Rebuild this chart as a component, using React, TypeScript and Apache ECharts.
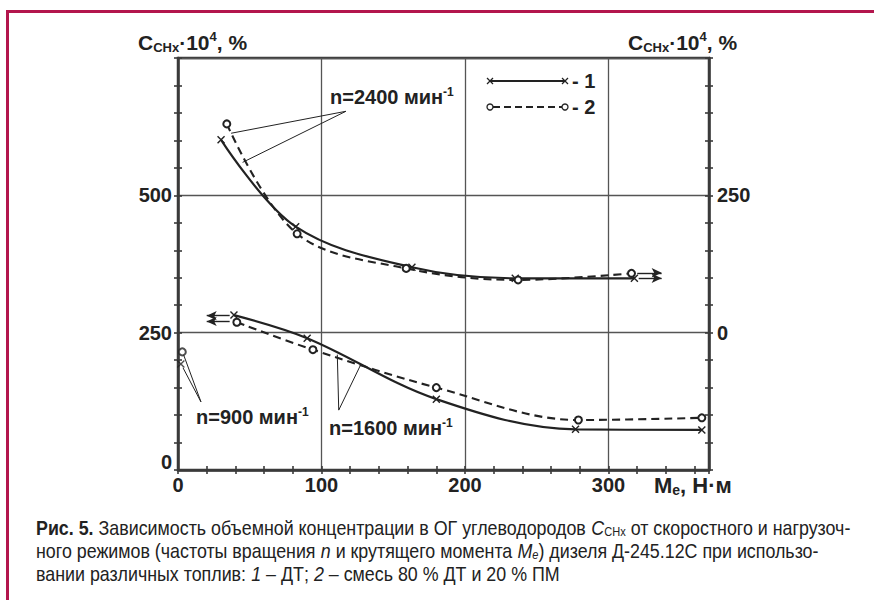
import React, { useEffect, useRef } from "react";
import * as echarts from "echarts";

// ---------------- data ----------------
const xLabelTicks = [0, 100, 200, 300];
const leftLabelTicks = [0, 250, 500];
const rightLabelTicks = [0, 250];

// n = 2400 min^-1 (read on the right axis)
const n2400Fuel1 = [[30, 351], [82, 193], [163, 119], [235, 99], [318, 99]];
const n2400Fuel2 = [[34, 380], [83, 180], [159, 117], [237, 96], [316, 108]];
// n = 1600 min^-1 (read on the left axis)
const n1600Fuel1 = [[39, 282], [90, 240], [180, 129], [277, 74], [365, 73]];
const n1600Fuel2 = [[41, 269], [94, 219], [180, 150], [279, 91], [365, 95]];
// n = 900 min^-1 (idle, left axis)
const n900Fuel1 = [[2, 193]];
const n900Fuel2 = [[3, 215]];

// annotation leader lines (data units)
const leader2400 = [[[117, 403], [37, 363]], [[117, 403], [45, 310]]]; // right axis
const leader1600 = [[[112, 109], [111, 210]], [[112, 109], [127, 190]]]; // left axis
const leader900 = [[[16, 124], [4, 209]], [[16, 124], [3.5, 186]]]; // left axis
const arrows2400 = [[[320, 109], [337, 109]], [[321, 99], [337, 99]]]; // right axis
const arrows1600 = [[[36, 281], [20, 281]], [[36, 270.5], [20, 270.5]]]; // left axis

const FONT = "'Liberation Sans', Arial, sans-serif";
const INK = "#222";
const AXIS = "#3a3a3a";
const FRAME = "#b3164d";
const X_SYMBOL = "path://M0,0L10,10M10,0L0,10";

const seg = (pair: number[][], arrow: boolean, width: number) => [
  { coord: pair[0], symbol: "none", lineStyle: { color: INK, width, type: "solid" } },
  { coord: pair[1], symbol: arrow ? "arrow" : "none", symbolSize: arrow ? [7, 10] : 0 },
];

const markLines = (leaders: number[][][], arrows: number[][][]) => ({
  silent: true,
  symbol: ["none", "none"],
  label: { show: false },
  lineStyle: { color: INK, width: 1, type: "solid" },
  emphasis: { disabled: true },
  data: [
    ...leaders.map((p) => seg(p, false, 1)),
    ...arrows.map((p) => seg(p, true, 1.4)),
  ],
});

const tickAxis = (pos: string, inside: boolean, min: number, max: number, interval: number) => ({
  type: "value",
  position: pos,
  min,
  max,
  interval,
  axisLine: { show: false, onZero: false },
  axisTick: { show: true, inside, length: 4, lineStyle: { color: AXIS, width: 1.6 } },
  axisLabel: { show: false },
  splitLine: { show: false },
});

const textStyle = (size: number) => ({
  fontFamily: FONT,
  fontWeight: "bold" as const,
  fontSize: size,
  color: INK,
});

function buildOption() {
  const crossLine = (x: number, y: number, s: number) => [
    { type: "line", silent: true, shape: { x1: x - s, y1: y - s, x2: x + s, y2: y + s }, style: { stroke: INK, lineWidth: 1.3 } },
    { type: "line", silent: true, shape: { x1: x - s, y1: y + s, x2: x + s, y2: y - s }, style: { stroke: INK, lineWidth: 1.3 } },
  ];
  const CAP = 21;
  const richBase = {
    n: { fontFamily: FONT, fontSize: CAP, fill: INK, color: INK, lineHeight: 23 },
    b: { fontFamily: FONT, fontSize: CAP, fontWeight: "bold", fill: INK, color: INK, lineHeight: 23 },
    i: { fontFamily: FONT, fontSize: CAP, fontStyle: "italic", fill: INK, color: INK, lineHeight: 23 },
    s: { fontFamily: FONT, fontSize: 13, fill: INK, color: INK, lineHeight: 13, verticalAlign: "bottom" },
    si: { fontFamily: FONT, fontSize: 13, fontStyle: "italic", fill: INK, color: INK, lineHeight: 13, verticalAlign: "bottom" },
  };
  const captionLine = (text: string, y: number) => ({
    type: "text",
    silent: true,
    x: 36,
    y,
    scaleX: 0.85,
    style: { text, rich: richBase, fill: INK, align: "left", verticalAlign: "middle", textAlign: "left", textVerticalAlign: "middle" },
  });
  const titleRich = {
    c: { fontFamily: FONT, fontSize: 21, fontWeight: "bold", fill: INK, color: INK, lineHeight: 24 },
    s: { fontFamily: FONT, fontSize: 13, fontWeight: "bold", fill: INK, color: INK, lineHeight: 13, verticalAlign: "bottom" },
    p: { fontFamily: FONT, fontSize: 13, fontWeight: "bold", fill: INK, color: INK, lineHeight: 13, verticalAlign: "top" },
  };
  const nameRich = {
    c: { fontFamily: FONT, fontSize: 22, fontWeight: "bold", fill: INK, color: INK, lineHeight: 24 },
    s: { fontFamily: FONT, fontSize: 14, fontWeight: "bold", fill: INK, color: INK, lineHeight: 14, verticalAlign: "bottom" },
  };
  const rpmRich = {
    a: { fontFamily: FONT, fontSize: 20, fontWeight: "bold", fill: INK, color: INK, lineHeight: 22 },
    p: { fontFamily: FONT, fontSize: 12, fontWeight: "bold", fill: INK, color: INK, lineHeight: 12, verticalAlign: "top" },
  };
  const richText = (text: string, x: number, y: number, rich: any) => ({
    type: "text",
    silent: true,
    x,
    y,
    style: { text, rich, fill: INK, align: "left", verticalAlign: "middle", textAlign: "left", textVerticalAlign: "middle" },
  });

  const graphic: any[] = [
    // page frame
    { type: "line", silent: true, shape: { x1: 7.5, y1: 10, x2: 7.5, y2: 600 }, style: { stroke: FRAME, lineWidth: 3 } },
    { type: "line", silent: true, shape: { x1: 6, y1: 11.5, x2: 874, y2: 11.5 }, style: { stroke: FRAME, lineWidth: 3 } },
    // axis titles
    richText("{c|C}{s|CHx}{c|·10}{p|4}{c|, %}", 138, 42, titleRich),
    richText("{c|C}{s|CHx}{c|·10}{p|4}{c|, %}", 628, 42, titleRich),
    richText("{c|M}{s|e}{c|, Н·м}", 654, 485, nameRich),
    // legend
    { type: "line", silent: true, shape: { x1: 490, y1: 81, x2: 565, y2: 81 }, style: { stroke: INK, lineWidth: 2 } },
    ...crossLine(490, 81, 3),
    ...crossLine(565, 81, 3),
    richText("{a|- 1}", 572, 81, rpmRich),
    { type: "line", silent: true, shape: { x1: 493, y1: 107, x2: 562, y2: 107 }, style: { stroke: INK, lineWidth: 2, lineDash: [7, 4] } },
    { type: "circle", silent: true, shape: { cx: 490, cy: 107, r: 3 }, style: { stroke: INK, fill: "#fff", lineWidth: 1.3 } },
    { type: "circle", silent: true, shape: { cx: 565, cy: 107, r: 3 }, style: { stroke: INK, fill: "#fff", lineWidth: 1.3 } },
    richText("{a|- 2}", 572, 107, rpmRich),
    // rpm annotations
    richText("{a|n=2400 мин}{p|-1}", 330, 97, rpmRich),
    richText("{a|n=900 мин}{p|-1}", 196, 417, rpmRich),
    richText("{a|n=1600 мин}{p|-1}", 329, 428, rpmRich),
    // caption
    captionLine("{b|Рис. 5.}{n| Зависимость объемной концентрации в ОГ углеводородов }{i|C}{s|CHx}{n| от скоростного и нагрузоч-}", 527),
    captionLine("{n|ного режимов (частоты вращения }{i|n}{n| и крутящего момента }{i|M}{si|e}{n|) дизеля Д-245.12С при использо-}", 550),
    captionLine("{n|вании различных топлив: }{i|1}{n| – ДТ; }{i|2}{n| – смесь 80 % ДТ и 20 % ПМ}", 573),
  ];

  const lineBase = {
    type: "line",
    xAxisIndex: 0,
    smooth: 0.35,
    showSymbol: true,
    silent: true,
    z: 3,
  };
  const fuel1Style = {
    symbol: X_SYMBOL,
    symbolSize: 7,
    lineStyle: { color: INK, width: 2.2, type: "solid" },
    itemStyle: { color: INK, borderColor: INK, borderWidth: 1.4 },
  };
  const fuel2Style = {
    symbol: "emptyCircle",
    symbolSize: 7,
    lineStyle: { color: INK, width: 2.1, type: [8, 5] },
    itemStyle: { color: INK, borderColor: INK, borderWidth: 1.4 },
  };

  return {
    animation: false,
    backgroundColor: "#fff",
    grid: {
      left: 178,
      right: 165,
      top: 58,
      bottom: 130,
      show: true,
      borderColor: AXIS,
      borderWidth: 2.5,
      backgroundColor: "#fff",
    },
    xAxis: [
      {
        type: "value",
        position: "bottom",
        min: 0,
        max: 370,
        interval: 100,
        axisLine: { show: true, onZero: false, lineStyle: { color: AXIS, width: 2.5 } },
        axisTick: { show: false },
        axisLabel: {
          ...textStyle(20),
          margin: 5,
          formatter: (v: number) => (xLabelTicks.includes(v) ? String(v) : ""),
        },
        splitLine: { show: true, lineStyle: { color: "#555", width: 1.3 } },
      },
      tickAxis("bottom", false, 0, 370, 20),
      tickAxis("bottom", true, 0, 370, 20),
    ],
    yAxis: [
      {
        type: "value",
        position: "left",
        min: 0,
        max: 750,
        interval: 250,
        axisLine: { show: true, onZero: false, lineStyle: { color: AXIS, width: 2.5 } },
        axisTick: { show: false },
        axisLabel: {
          ...textStyle(20),
          margin: 6,
          formatter: (v: number) => (leftLabelTicks.includes(v) ? (v === 0 ? "{z|0}" : String(v)) : ""),
          rich: { z: { ...textStyle(20), padding: [0, 0, 16, 0] } },
        },
        splitLine: { show: true, lineStyle: { color: "#555", width: 1.3 } },
      },
      tickAxis("left", false, 0, 750, 50),
      tickAxis("left", true, 0, 750, 50),
      {
        type: "value",
        position: "right",
        min: -250,
        max: 500,
        interval: 250,
        axisLine: { show: true, onZero: false, lineStyle: { color: AXIS, width: 2.5 } },
        axisTick: { show: false },
        axisLabel: {
          ...textStyle(20),
          margin: 8,
          formatter: (v: number) => (rightLabelTicks.includes(v) ? String(v) : ""),
        },
        splitLine: { show: false },
      },
      tickAxis("right", false, -250, 500, 50),
      tickAxis("right", true, -250, 500, 50),
    ],
    graphic,
    series: [
      { ...lineBase, ...fuel1Style, name: "1", yAxisIndex: 3, data: n2400Fuel1, markLine: markLines(leader2400, arrows2400) },
      { ...lineBase, ...fuel2Style, name: "2", yAxisIndex: 3, data: n2400Fuel2 },
      { ...lineBase, ...fuel1Style, name: "1 ", yAxisIndex: 0, data: n1600Fuel1, markLine: markLines([...leader1600, ...leader900], arrows1600) },
      { ...lineBase, ...fuel2Style, name: "2 ", yAxisIndex: 0, data: n1600Fuel2 },
      { type: "scatter", xAxisIndex: 0, yAxisIndex: 0, silent: true, z: 3, symbol: X_SYMBOL, symbolSize: 7, itemStyle: { color: INK, borderColor: INK, borderWidth: 1.4 }, data: n900Fuel1 },
      { type: "scatter", xAxisIndex: 0, yAxisIndex: 0, silent: true, z: 3, symbol: "emptyCircle", symbolSize: 7, itemStyle: { color: INK, borderColor: INK, borderWidth: 1.4 }, data: n900Fuel2 },
    ],
  };
}

export default function App() {
  const ref = useRef<HTMLDivElement>(null);
  useEffect(() => {
    if (!ref.current) return;
    const chart = echarts.init(ref.current, undefined, { renderer: "svg" });
    chart.setOption(buildOption() as any);
    return () => chart.dispose();
  }, []);
  return (
    <div
      ref={ref}
      style={{ position: "absolute", left: 0, top: 0, width: 874, height: 600, background: "#fff" }}
    />
  );
}
